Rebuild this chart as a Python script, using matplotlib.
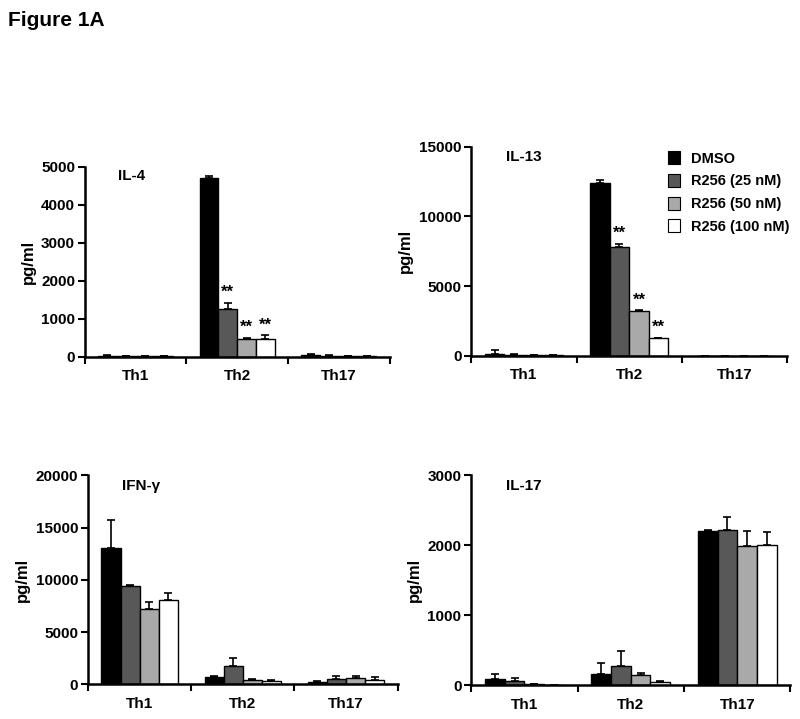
import matplotlib.pyplot as plt
from matplotlib.patches import Patch

plt.rcParams['font.family'] = ['Liberation Sans', 'DejaVu Sans']
plt.rcParams['font.weight'] = 'bold'

cells = ["Th1", "Th2", "Th17"]
treatments = ["DMSO", "R256 (25 nM)", "R256 (50 nM)", "R256 (100 nM)"]
colors = ["#000000", "#585858", "#a9a9a9", "#ffffff"]

# values per treatment, order Th1, Th2, Th17
il4 = [[20, 4700, 50], [10, 1250, 25], [5, 460, 15], [5, 460, 10]]
il4_err = [[10, 50, 20], [5, 170, 10], [0, 40, 5], [0, 100, 5]]
il13 = [[160, 12400, 0], [80, 7800, 0], [40, 3200, 0], [40, 1250, 0]]
il13_err = [[250, 200, 0], [30, 200, 0], [20, 60, 0], [20, 60, 0]]
ifng = [[13000, 750, 250], [9450, 1800, 500], [7250, 400, 650], [8100, 350, 400]]
ifng_err = [[2750, 60, 80], [100, 750, 300], [650, 100, 150], [650, 100, 300]]
il17 = [[90, 160, 2210], [60, 270, 2220], [15, 150, 1990], [5, 40, 2000]]
il17_err = [[75, 160, 10], [50, 220, 190], [5, 30, 220], [5, 20, 190]]

panels = [
    ("IL-4", il4, il4_err, [0, 1000, 2000, 3000, 4000, 5000], [0.106, 0.504, 0.381, 0.264]),
    ("IL-13", il13, il13_err, [0, 5000, 10000, 15000], [0.589, 0.505, 0.395, 0.291]),
    ("IFN-\u03b3", ifng, ifng_err, [0, 5000, 10000, 15000, 20000], [0.110, 0.048, 0.387, 0.291]),
    ("IL-17", il17, il17_err, [0, 1000, 2000, 3000], [0.589, 0.047, 0.399, 0.292]),
]
# significance marks on Th2 R256 bars
stars = {"IL-4": [1, 2, 3], "IL-13": [1, 2, 3]}

fig = plt.figure(figsize=(8, 7.19), dpi=100)
fig.text(0.010, 0.972, "Figure 1A", fontsize=15, fontweight='bold', va='center')

bw = 0.185
for name, vals, errs, yt, pos in panels:
    ax = fig.add_axes(pos)
    for j in range(4):
        xs = [i + 0.5 + (j - 1.5) * bw for i in range(3)]
        ax.bar(xs, vals[j], width=bw, color=colors[j], edgecolor='black', linewidth=1.0, zorder=2)
        ax.errorbar(xs, vals[j], yerr=[[0, 0, 0], errs[j]], fmt='none', ecolor='black',
                    elinewidth=1.2, capsize=3, capthick=1.2, zorder=1)
        if name in stars and j in stars[name]:
            ax.text(xs[1], vals[j][1] + errs[j][1] + yt[-1] * 0.015, "**", ha='center',
                    va='bottom', fontsize=12, fontweight='bold')
    ax.set_xlim(0, 3)
    ax.set_ylim(0, yt[-1])
    ax.set_yticks(yt)
    ax.set_yticklabels([str(v) for v in yt], fontsize=11, fontweight='bold')
    ax.set_xticks([0, 1, 2, 3])
    ax.set_xticklabels([])
    ax.set_xticks([0.5, 1.5, 2.5], minor=True)
    ax.set_xticklabels(cells, minor=True, fontsize=11, fontweight='bold')
    ax.tick_params(axis='x', which='minor', length=0, pad=9)
    ax.tick_params(axis='both', which='major', length=5, width=1.5, direction='out', pad=2)
    for s in ['top', 'right']:
        ax.spines[s].set_visible(False)
    for s in ['left', 'bottom']:
        ax.spines[s].set_linewidth(1.8)
    ax.set_ylabel("pg/ml", fontsize=12, fontweight='bold', labelpad=4)
    ax.text(0.11, 0.95, name, transform=ax.transAxes, fontsize=11, fontweight='bold', va='center')
    if name == "IL-13":
        handles = [Patch(facecolor=c, edgecolor='black', linewidth=0.8) for c in colors]
        ax.legend(handles, treatments, loc='upper right', bbox_to_anchor=(1.05, 1.04), frameon=False,
                  prop={'weight': 'bold', 'size': 10.5}, handlelength=0.8, handleheight=1.0,
                  labelspacing=0.55, handletextpad=0.8)

fig.savefig("out.png", dpi=100)
